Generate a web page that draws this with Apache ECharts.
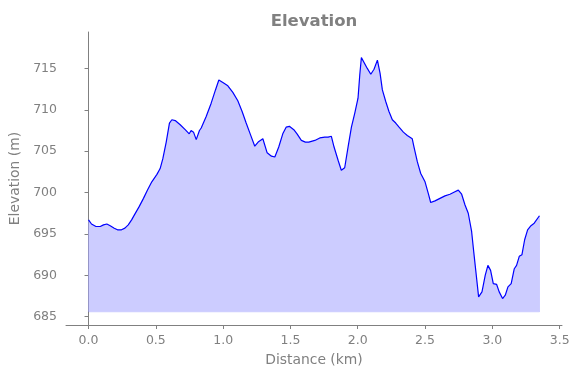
<!DOCTYPE html>
<html>
<head>
<meta charset="utf-8">
<script src="https://cdn.jsdelivr.net/npm/echarts@6/dist/echarts.min.js"></script>
<style>html,body{margin:0;padding:0;background:#fff}#c{width:580px;height:378px}</style>
</head>
<body>
<div id="c"></div>
<script>
const distanceKm = [0, 0.022, 0.055, 0.087, 0.111, 0.136, 0.161, 0.191, 0.215, 0.245, 0.27, 0.295, 0.32, 0.344, 0.376, 0.408, 0.438, 0.47, 0.508, 0.532, 0.552, 0.577, 0.601, 0.619, 0.644, 0.681, 0.718, 0.748, 0.762, 0.78, 0.8, 0.824, 0.837, 0.874, 0.911, 0.943, 0.968, 0.998, 1.035, 1.072, 1.109, 1.141, 1.171, 1.203, 1.235, 1.26, 1.295, 1.327, 1.359, 1.384, 1.413, 1.443, 1.468, 1.492, 1.525, 1.549, 1.581, 1.611, 1.636, 1.681, 1.718, 1.755, 1.78, 1.804, 1.824, 1.854, 1.878, 1.903, 1.928, 1.953, 1.978, 2.002, 2.015, 2.027, 2.039, 2.071, 2.097, 2.121, 2.146, 2.166, 2.183, 2.208, 2.232, 2.257, 2.282, 2.307, 2.339, 2.368, 2.405, 2.418, 2.443, 2.468, 2.5, 2.524, 2.542, 2.574, 2.611, 2.648, 2.685, 2.722, 2.747, 2.772, 2.797, 2.821, 2.846, 2.862, 2.878, 2.898, 2.923, 2.947, 2.967, 2.987, 3.007, 3.032, 3.051, 3.076, 3.096, 3.116, 3.14, 3.163, 3.18, 3.2, 3.22, 3.24, 3.262, 3.287, 3.311, 3.323, 3.35];
const elevationM = [696.7, 696.2, 695.9, 695.9, 696.1, 696.2, 696.0, 695.7, 695.5, 695.5, 695.7, 696.1, 696.7, 697.4, 698.3, 699.3, 700.3, 701.3, 702.2, 702.9, 704.1, 706.1, 708.4, 708.8, 708.7, 708.2, 707.6, 707.1, 707.5, 707.3, 706.4, 707.5, 707.8, 709.2, 710.8, 712.4, 713.6, 713.3, 712.9, 712.1, 711.1, 709.8, 708.4, 707.0, 705.6, 706.1, 706.5, 704.8, 704.4, 704.3, 705.5, 707.1, 707.9, 708.0, 707.6, 707.1, 706.3, 706.1, 706.1, 706.3, 706.6, 706.7, 706.7, 706.8, 705.5, 703.9, 702.7, 703.0, 705.5, 707.9, 709.6, 711.4, 714.2, 716.3, 716.3, 715.0, 714.3, 714.9, 716.0, 714.4, 712.4, 711.0, 709.8, 708.8, 708.4, 707.9, 707.3, 706.9, 706.5, 705.5, 703.7, 702.3, 701.3, 699.9, 698.8, 699.0, 699.3, 699.6, 699.8, 700.1, 700.3, 699.8, 698.5, 697.5, 695.3, 692.8, 690.4, 687.4, 688.0, 690.0, 691.2, 690.6, 689.0, 688.9, 688.0, 687.2, 687.6, 688.6, 689.0, 690.8, 691.2, 692.3, 692.5, 694.3, 695.5, 696.0, 696.3, 696.1, 697.2];
const fillBase = 685.6;
const xTicks = [0.0, 0.5, 1.0, 1.5, 2.0, 2.5, 3.0, 3.5];
const yTicks = [685, 690, 695, 700, 705, 710, 715];

const lineData = distanceKm.map((d, i) => [d, elevationM[i]]);
const n = distanceKm.length;
const outlineData = [[distanceKm[0], elevationM[0]], [distanceKm[0], fillBase], [distanceKm[n - 1], fillBase], [distanceKm[n - 1], elevationM[n - 1]]];

const gray = '#808080';
const font = 'DejaVu Sans';
const chart = echarts.init(document.getElementById('c'), null, {renderer: 'canvas'});
chart.setOption({
  animation: false,
  title: {
    text: 'Elevation', left: 309, top: 8, textAlign: 'center',
    textStyle: {color: gray, fontFamily: font, fontWeight: 'bold', fontSize: 16.5}
  },
  grid: {left: 66, right: 18, top: 32, bottom: 53},
  xAxis: {
    type: 'value', min: -0.1675, max: 3.5175,
    name: 'Distance (km)', nameLocation: 'middle', nameGap: 28,
    nameTextStyle: {color: gray, fontFamily: font, fontSize: 13.9},
    axisLine: {show: true, lineStyle: {color: gray, width: 1}},
    axisTick: {show: true, length: 4, customValues: xTicks, lineStyle: {color: gray}},
    axisLabel: {customValues: xTicks, color: gray, fontFamily: font, fontSize: 12.5, margin: 9,
      formatter: v => v.toFixed(1)},
    splitLine: {show: false}
  },
  yAxis: {
    type: 'value', min: 684.0, max: 719.4,
    name: 'Elevation (m)', nameLocation: 'middle', nameGap: 40,
    nameTextStyle: {color: gray, fontFamily: font, fontSize: 13.9},
    axisLine: {show: true, lineStyle: {color: gray, width: 1}},
    axisTick: {show: true, length: 4, customValues: yTicks, lineStyle: {color: gray}},
    axisLabel: {customValues: yTicks, color: gray, fontFamily: font, fontSize: 12.5, margin: 9,
      formatter: v => String(v)},
    splitLine: {show: false}
  },
  series: [
    {
      type: 'line', data: outlineData, showSymbol: false, silent: true, z: 1,
      lineStyle: {color: 'rgba(0,0,255,0.2)', width: 1}
    },
    {
      type: 'line', data: lineData, showSymbol: false, z: 2,
      lineStyle: {color: '#0000ff', width: 1.2},
      areaStyle: {color: '#ccccff', opacity: 1, origin: fillBase}
    }
  ]
});
</script>
</body>
</html>
